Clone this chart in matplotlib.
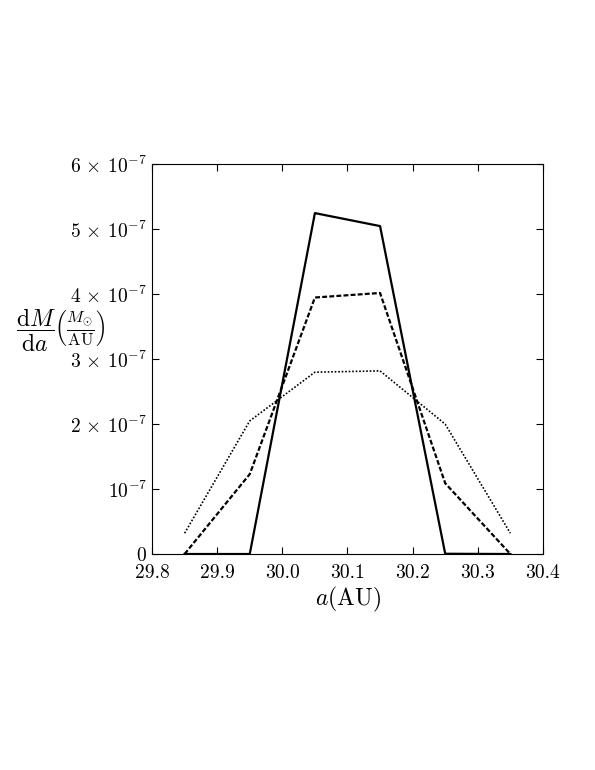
import matplotlib
matplotlib.use("Agg")
import matplotlib.pyplot as plt

plt.rcParams['mathtext.fontset'] = 'cm'
plt.rcParams['font.family'] = 'serif'
plt.rcParams['font.serif'] = ['cmr10']
plt.rcParams['axes.formatter.use_mathtext'] = True

a = [29.85, 29.95, 30.05, 30.15, 30.25, 30.35]
solid = [0.0, 0.0, 5.25e-7, 5.05e-7, 0.004e-7, 0.0]
dashed = [0.0, 1.23e-7, 3.95e-7, 4.02e-7, 1.09e-7, 0.0]
dotted = [0.32e-7, 2.05e-7, 2.80e-7, 2.82e-7, 2.00e-7, 0.32e-7]

xticks = [29.8, 29.9, 30.0, 30.1, 30.2, 30.3, 30.4]
xlabels = ['29.8', '29.9', '30.0', '30.1', '30.2', '30.3', '30.4']
yticks = [0, 1e-7, 2e-7, 3e-7, 4e-7, 5e-7, 6e-7]
ylabels = [r'$0$', r'$10^{-7}$', r'$2\,\times\,10^{-7}$', r'$3\,\times\,10^{-7}$',
           r'$4\,\times\,10^{-7}$', r'$5\,\times\,10^{-7}$', r'$6\,\times\,10^{-7}$']

fig = plt.figure(figsize=(5.95, 7.7), dpi=100)
ax = fig.add_axes([0.2555, 0.2805, 0.657, 0.506])

ax.plot(a, solid, color='black', lw=1.6, ls='-')
ax.plot(a, dashed, color='black', lw=1.6, ls=(0, (2.2, 1.0)))
ax.plot(a, dotted, color='black', lw=1.2, ls=(0, (1, 1.1)))

ax.set_xlim(29.8, 30.4)
ax.set_ylim(0, 6e-7)
ax.set_xticks(xticks)
ax.set_xticklabels(xlabels, fontsize=14)
ax.set_yticks(yticks)
ax.set_yticklabels(ylabels, fontsize=14)
ax.tick_params(direction='in', top=True, right=True, length=5)
ax.tick_params(axis='x', pad=7)

ax.set_xlabel(r'$a(\mathrm{AU})$', fontsize=17, labelpad=2)
ax.set_ylabel(r'$\dfrac{\mathrm{d}M}{\mathrm{d}a}\left(\frac{M_{\odot}}{\mathrm{AU}}\right)$',
              fontsize=17, rotation=0, ha='center', va='center')
ax.yaxis.set_label_coords(-0.233, 0.574)

fig.savefig('out.png', dpi=100)
